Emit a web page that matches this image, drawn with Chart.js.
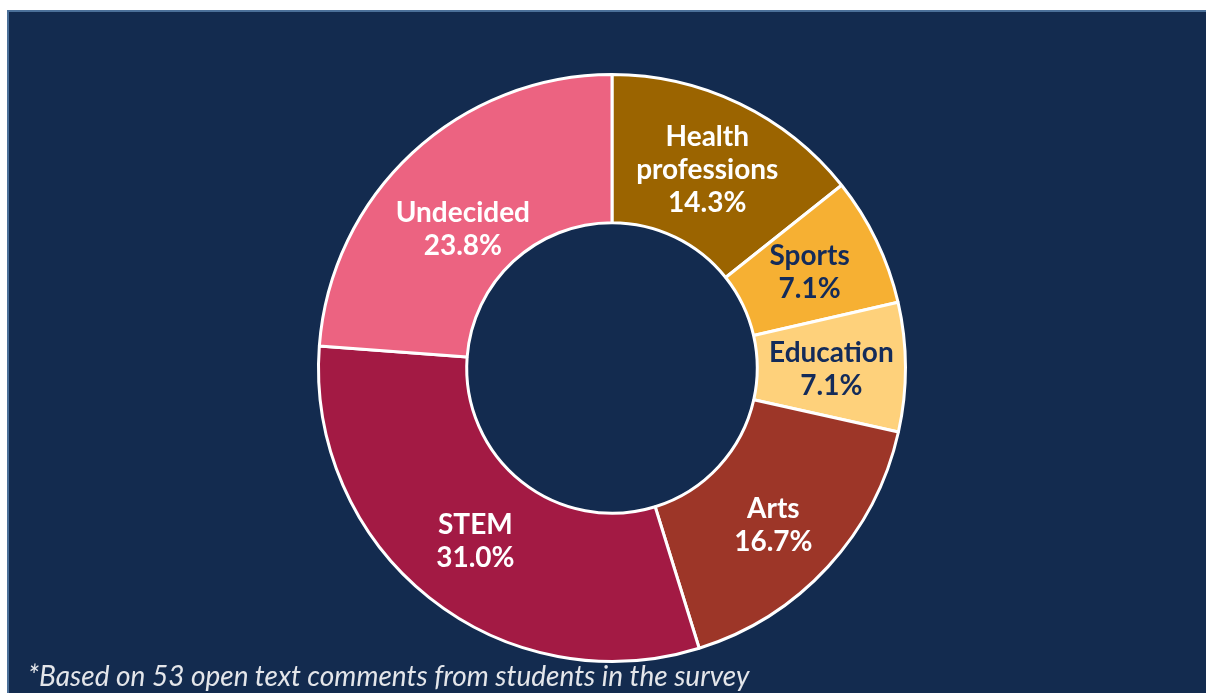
<!DOCTYPE html>
<html>
<head>
<meta charset="utf-8">
<script src="https://cdn.jsdelivr.net/npm/chart.js@4/dist/chart.umd.min.js"></script>
<style>
  html, body { margin: 0; padding: 0; background: #ffffff; }
  body { width: 1206px; height: 693px; position: relative; overflow: hidden; font-family: Lato, "Noto Sans", sans-serif; }
  #panel {
    position: absolute; left: 7px; top: 10px; right: 0; bottom: 0;
    background: #132b4f;
    border-left: 2px solid #4b7099;
    border-top: 2px solid #4b7099;
  }
  #wrap { position: absolute; left: 0; top: 0; width: 1206px; height: 693px; }
  #note {
    position: absolute; left: 28px; top: 659px;
    font-family: Lato, sans-serif; font-style: italic; font-size: 28px;
    color: #e4e6ea; white-space: nowrap; line-height: 32px;
  }
</style>
</head>
<body>
<div id="panel"></div>
<div id="wrap"><canvas id="c" width="1206" height="693"></canvas></div>
<div id="note">*Based on 53 open text comments from students in the survey</div>
<script>
// Career interests, share of comments (%)
const categories = [
  ['Health', 'professions'],
  ['Sports'],
  ['Education'],
  ['Arts'],
  ['STEM'],
  ['Undecided']
];
const shares = [14.3, 7.1, 7.1, 16.7, 31.0, 23.8];
const sliceColors = ['#9b6400', '#f6b033', '#fed17b', '#9d3628', '#a31a44', '#ec6381'];
const labelColors = ['#ffffff', '#132b5a', '#132b5a', '#ffffff', '#ffffff', '#ffffff'];

// Draws the category name and share inside each slice, at the ring's mid radius
const sliceLabels = {
  id: 'sliceLabels',
  afterDatasetsDraw(chart, args, opts) {
    const ctx = chart.ctx;
    const meta = chart.getDatasetMeta(0);
    const ds = chart.data.datasets[0];
    const nudge = opts.nudgeY || [];
    ctx.save();
    ctx.font = 'bold 28px Lato, sans-serif';
    ctx.textAlign = 'center';
    ctx.textBaseline = 'middle';
    const lh = 33;
    meta.data.forEach((arc, i) => {
      const p = arc.getCenterPoint();
      const lines = chart.data.labels[i].concat([ds.data[i].toFixed(1) + '%']);
      const y0 = p.y + (nudge[i] || 0) - (lines.length - 1) * lh / 2;
      ctx.fillStyle = labelColors[i];
      lines.forEach((t, k) => ctx.fillText(t, p.x, y0 + k * lh));
    });
    ctx.restore();
  }
};

new Chart(document.getElementById('c'), {
  type: 'doughnut',
  data: {
    labels: categories,
    datasets: [{
      data: shares,
      backgroundColor: sliceColors,
      borderColor: '#ffffff',
      borderWidth: 3,
      hoverOffset: 0
    }]
  },
  options: {
    responsive: false,
    animation: false,
    cutout: '49.5%',
    layout: { padding: { top: 73, bottom: 30, left: 18, right: 0 } },
    plugins: {
      legend: { display: false },
      tooltip: { enabled: false },
      sliceLabels: { nudgeY: [0, 0, 2, 9, 2, 22] }
    }
  },
  plugins: [sliceLabels]
});
</script>
</body>
</html>
